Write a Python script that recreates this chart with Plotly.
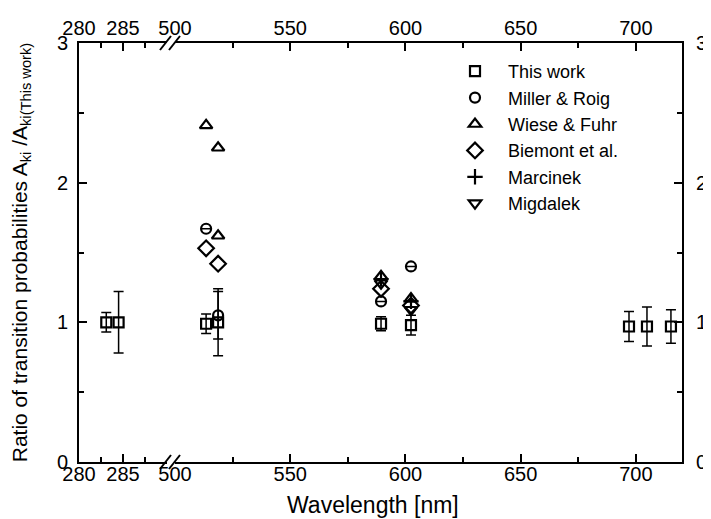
import plotly.graph_objects as go

# ---- data ----
# segment 1 (280-290 nm), only "This work"
tw_x1 = [283.1, 284.5]
tw_y1 = [1.00, 1.00]
tw_e1 = [0.07, 0.22]

# segment 2 (500-720 nm)
tw_x2 = [513.5, 518.7, 589.4, 602.4, 697.0, 704.8, 715.2]
tw_y2 = [0.99, 1.00, 0.99, 0.98, 0.97, 0.97, 0.97]
tw_e2 = [0.07, 0.24, 0.05, 0.07, 0.107, 0.14, 0.12]

mr_x = [513.5, 518.7, 589.4, 602.4]
mr_y = [1.67, 1.05, 1.15, 1.40]
mr_e = [None, 0.17, None, None]

wf_x = [513.5, 518.7, 518.7, 589.4, 602.4]
wf_y = [2.41, 2.25, 1.62, 1.33, 1.17]

bi_x = [513.5, 518.7, 589.4, 602.4]
bi_y = [1.53, 1.42, 1.24, 1.12]

ma_x = [589.4, 602.4]
ma_y = [1.31, 1.15]

mi_x = [589.4, 602.4]
mi_y = [1.28, 1.09]

seg1_range = [280, 290]
seg2_range = [500, 720]
seg1_ticks = [280, 285]
seg2_ticks = [500, 550, 600, 650, 700]
y_ticks = [0, 1, 2, 3]

x_title = "Wavelength [nm]"
y_title = "Ratio of transition probabilities A<sub>ki</sub> /A<sub>ki(This work)</sub>"

# ---- geometry (pixels, page has an 8px body margin) ----
OFF = 8
W, H = 711 - OFF, 519 - OFF
L, R, T, B = 79, 682, 43, 462          # plot frame in window pixels
pw, ph = R - L, B - T


def px(x):
    return (x - L) / pw


def py(y):
    return (B - y) / ph


d1 = [0, px(167)]
d2 = [px(175), 1]

FONT = "Liberation Sans, Arial, sans-serif"
blk = "black"

fig = go.Figure()

mk = dict(color=blk, line=dict(color=blk, width=2.2))
ebar = dict(type="data", thickness=1.5, width=5, color=blk)

fig.add_trace(go.Scatter(x=tw_x2, y=tw_y2, mode="markers", name="This work",
                         xaxis="x2", yaxis="y",
                         marker=dict(symbol="square-open", size=10, **mk),
                         error_y=dict(array=tw_e2, **ebar)))
fig.add_trace(go.Scatter(x=tw_x1, y=tw_y1, mode="markers", name="This work",
                         xaxis="x", yaxis="y", showlegend=False,
                         marker=dict(symbol="square-open", size=10, **mk),
                         error_y=dict(array=tw_e1, **ebar)))
fig.add_trace(go.Scatter(x=mr_x, y=mr_y, mode="markers", name="Miller & Roig",
                         xaxis="x2", yaxis="y",
                         marker=dict(symbol="circle-open", size=10, **mk),
                         error_y=dict(array=mr_e, **ebar)))
fig.add_trace(go.Scatter(x=wf_x, y=wf_y, mode="markers", name="Wiese & Fuhr",
                         xaxis="x2", yaxis="y",
                         marker=dict(symbol="triangle-up-open", size=11, **mk)))
fig.add_trace(go.Scatter(x=bi_x, y=bi_y, mode="markers", name="Biemont et al.",
                         xaxis="x2", yaxis="y",
                         marker=dict(symbol="diamond-open", size=12, **mk)))
fig.add_trace(go.Scatter(x=ma_x, y=ma_y, mode="markers", name="Marcinek",
                         xaxis="x2", yaxis="y",
                         marker=dict(symbol="cross-thin-open", size=11, **mk)))
fig.add_trace(go.Scatter(x=mi_x, y=mi_y, mode="markers", name="Migdalek",
                         xaxis="x2", yaxis="y",
                         marker=dict(symbol="triangle-down-open", size=11, **mk)))

# dummy traces so overlay subplots exist
for xa, ya in [("x3", "y"), ("x4", "y"), ("x2", "y2")]:
    fig.add_trace(go.Scatter(x=[None], y=[None], xaxis=xa, yaxis=ya,
                             showlegend=False, hoverinfo="skip"))

axcommon = dict(showline=True, linecolor=blk, linewidth=2, showgrid=False,
                zeroline=False, ticks="inside", tickcolor=blk, tickwidth=1.5,
                ticklen=8, automargin=False,
                tickfont=dict(family=FONT, size=20, color=blk))

fig.update_layout(
    width=W, height=H,
    margin=dict(l=L - OFF, r=W - (R - OFF), t=T - OFF, b=H - (B - OFF),
                pad=0, autoexpand=False),
    paper_bgcolor="white", plot_bgcolor="white",
    font=dict(family=FONT, color=blk),
    showlegend=True,
    legend=dict(x=px(442), y=py(53), xanchor="left", yanchor="top",
                font=dict(family=FONT, size=18, color=blk),
                bgcolor="rgba(0,0,0,0)", borderwidth=0, itemwidth=56,
                tracegroupgap=0),
    xaxis=dict(domain=d1, range=seg1_range, anchor="y", side="bottom",
               tickmode="array", tickvals=seg1_ticks,
               ticktext=[str(v) for v in seg1_ticks],
               minor=dict(ticks="inside", ticklen=5, tickwidth=1.5,
                          tickcolor=blk, dtick=2.5, tick0=280),
               ticklabelstandoff=-7, **axcommon),
    xaxis2=dict(domain=d2, range=seg2_range, anchor="y", side="bottom",
                tickmode="array", tickvals=seg2_ticks,
                ticktext=[str(v) for v in seg2_ticks],
                minor=dict(ticks="inside", ticklen=5, tickwidth=1.5,
                           tickcolor=blk, dtick=25, tick0=500),
                ticklabelstandoff=-7, **axcommon),
    xaxis3=dict(overlaying="x", range=seg1_range, anchor="y", side="top",
                tickmode="array", tickvals=seg1_ticks,
                ticktext=[str(v) for v in seg1_ticks],
                minor=dict(ticks="inside", ticklen=5, tickwidth=1.5,
                           tickcolor=blk, dtick=2.5, tick0=280),
                ticklabelstandoff=-2, **axcommon),
    xaxis4=dict(overlaying="x2", range=seg2_range, anchor="y", side="top",
                tickmode="array", tickvals=seg2_ticks,
                ticktext=[str(v) for v in seg2_ticks],
                minor=dict(ticks="inside", ticklen=5, tickwidth=1.5,
                           tickcolor=blk, dtick=25, tick0=500),
                ticklabelstandoff=-2, **axcommon),
    yaxis=dict(domain=[0, 1], range=[0, 3], anchor="x", side="left",
               tickmode="array", tickvals=y_ticks,
               minor=dict(ticks="inside", ticklen=5, tickwidth=1.5,
                          tickcolor=blk, dtick=0.5, tick0=0),
               ticklabelstandoff=5,
               title=dict(text=y_title,
                          font=dict(family=FONT, size=21, color=blk),
                          standoff=41),
               **axcommon),
    yaxis2=dict(overlaying="y", range=[0, 3], anchor="x2", side="right",
                tickmode="array", tickvals=y_ticks,
                minor=dict(ticks="inside", ticklen=5, tickwidth=1.5,
                           tickcolor=blk, dtick=0.5, tick0=0),
                ticklabelstandoff=8, **axcommon),
)

# x-axis title spanning both segments
fig.add_annotation(text=x_title, xref="paper", yref="paper",
                   x=px(373), y=py(505), xanchor="center", yanchor="middle",
                   showarrow=False, font=dict(family=FONT, size=23, color=blk))

# axis-break marks (decoration) on bottom and top axes
for yc in (B, T):
    for x0 in (160, 169):
        fig.add_shape(type="line", xref="paper", yref="paper",
                      x0=px(x0), x1=px(x0 + 11), y0=py(yc + 7), y1=py(yc - 7),
                      line=dict(color=blk, width=2))

fig.write_html("out.html")
